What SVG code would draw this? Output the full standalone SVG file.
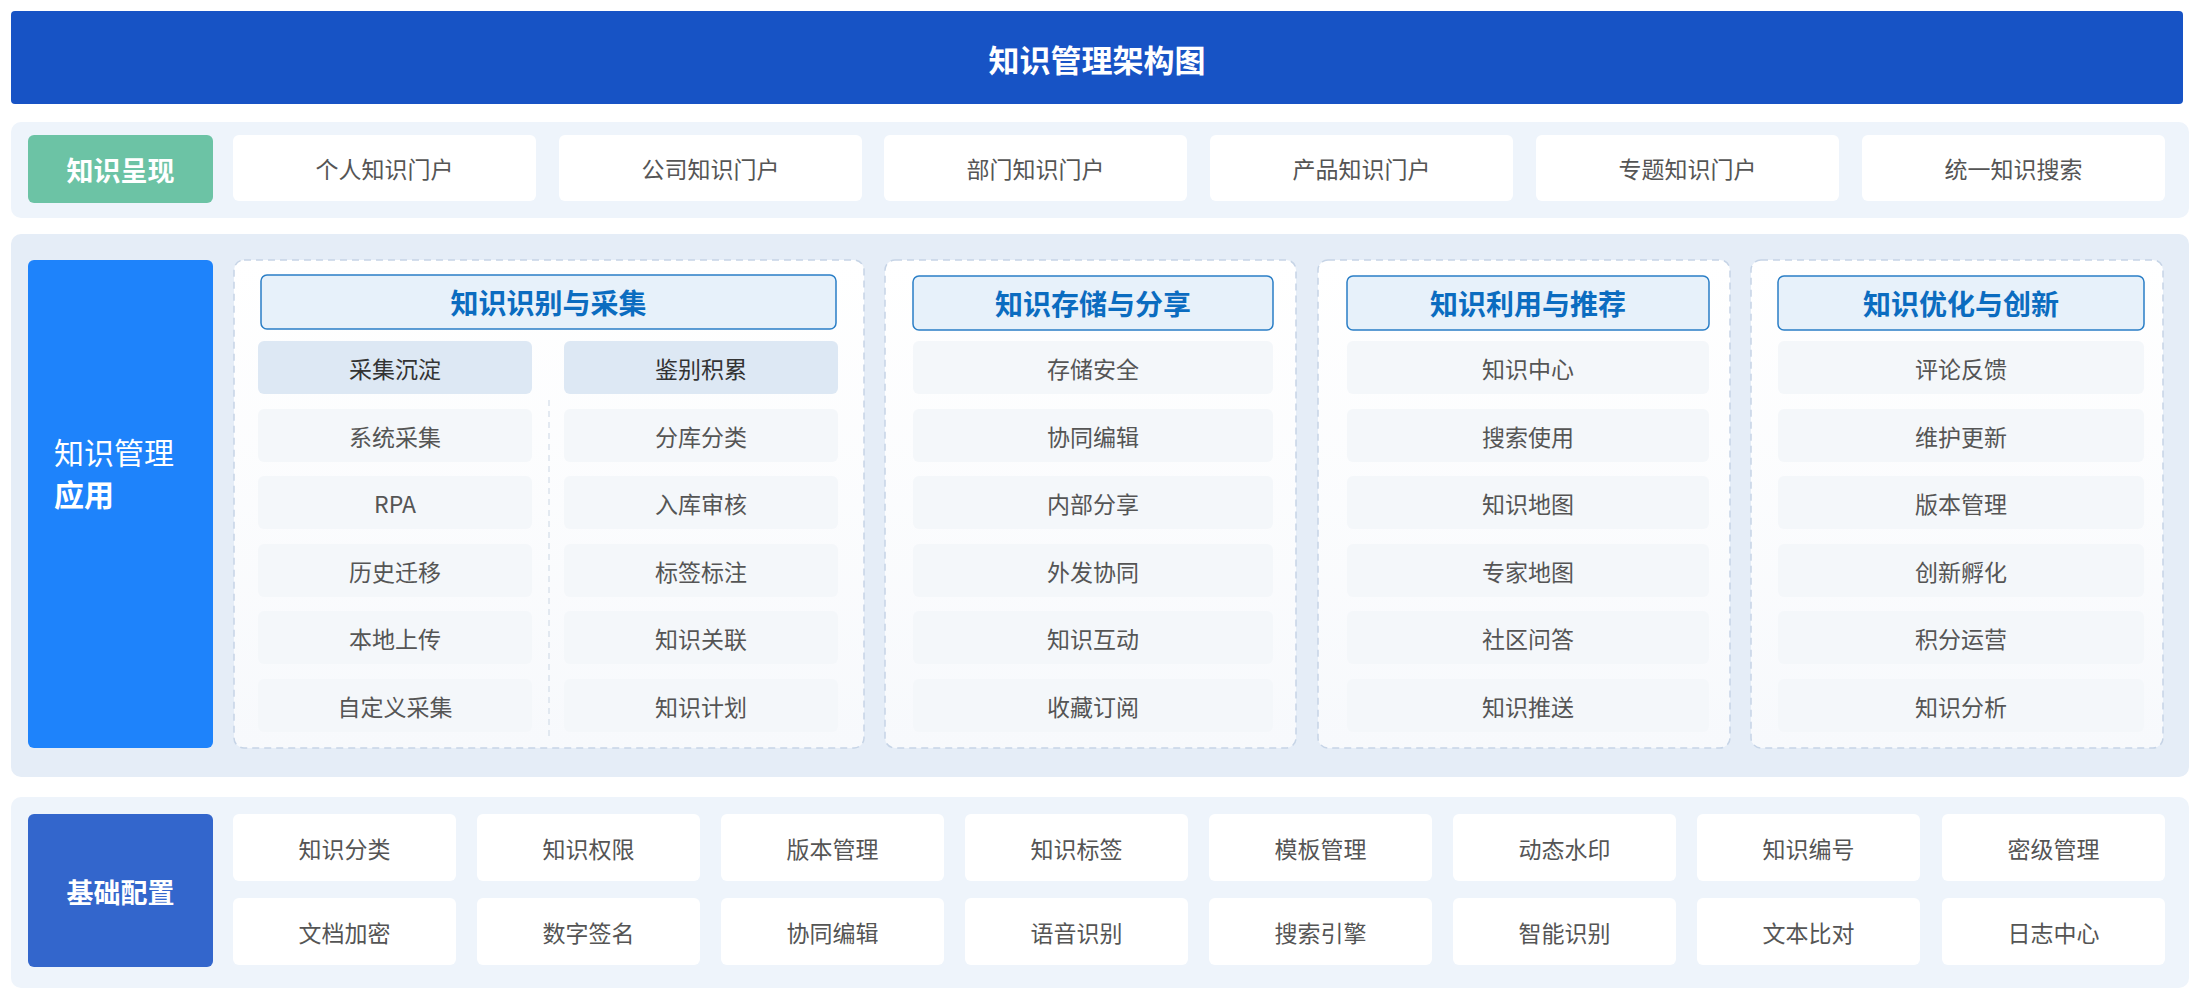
<svg xmlns="http://www.w3.org/2000/svg" width="2200" height="1000" viewBox="0 0 2200 1000">
<defs>
<style>
text{font-family:"Noto Sans CJK SC","Noto Sans",sans-serif;dominant-baseline:central;text-anchor:middle}
.item{fill:#555555;font-size:23px}
.sub{fill:#333333;font-size:23px}
.hdr{fill:#0B6CC0;font-size:28px;font-weight:600}
.lab{fill:#ffffff;font-size:27px;font-weight:700}
.wbox{fill:#ffffff}
.cbox{fill:#F4F7FA}
.sbox{fill:#DDE8F4}
.hbox{fill:#E7F1FA;stroke:#2A7EC6;stroke-width:1.5}
.col{fill:url(#colg);stroke:#C6D4E6;stroke-width:1.5;stroke-dasharray:7 5}
</style>
<linearGradient id="colg" x1="0" y1="0" x2="0" y2="1">
<stop offset="0" stop-color="#FFFFFF"/>
<stop offset="1" stop-color="#F7F9FC"/>
</linearGradient>
</defs>
<rect width="2200" height="1000" fill="#ffffff"/>

<g id="title">
<rect x="11" y="11" width="2172" height="93" rx="4" fill="#1753C5"/>
<text x="1097" y="58" fill="#ffffff" font-size="31" font-weight="600">知识管理架构图</text>
</g>

<g id="row-presentation">
<rect x="11" y="122" width="2178" height="96" rx="10" fill="#EEF4FB"/>
<g id="label-presentation">
<rect x="28" y="135" width="185" height="68" rx="6" fill="#6CC3A5"/>
<text class="lab" x="120.5" y="169">知识呈现</text>
</g>
<g id="p1"><rect class="wbox" x="233" y="135" width="303" height="66" rx="6"/><text class="item" x="384.5" y="168">个人知识门户</text></g>
<g id="p2"><rect class="wbox" x="559" y="135" width="303" height="66" rx="6"/><text class="item" x="710.5" y="168">公司知识门户</text></g>
<g id="p3"><rect class="wbox" x="884" y="135" width="303" height="66" rx="6"/><text class="item" x="1035.5" y="168">部门知识门户</text></g>
<g id="p4"><rect class="wbox" x="1210" y="135" width="303" height="66" rx="6"/><text class="item" x="1361.5" y="168">产品知识门户</text></g>
<g id="p5"><rect class="wbox" x="1536" y="135" width="303" height="66" rx="6"/><text class="item" x="1687.5" y="168">专题知识门户</text></g>
<g id="p6"><rect class="wbox" x="1862" y="135" width="303" height="66" rx="6"/><text class="item" x="2013.5" y="168">统一知识搜索</text></g>
</g>

<g id="row-application">
<rect x="11" y="234" width="2178" height="543" rx="10" fill="#E5EDF7"/>
<g id="label-application">
<rect x="28" y="260" width="185" height="488" rx="6" fill="#1E83FB"/>
<text x="54" y="451" fill="#ffffff" font-size="30" style="text-anchor:start">知识管理</text>
<text x="54" y="493" fill="#ffffff" font-size="30" font-weight="700" style="text-anchor:start">应用</text>
</g>

<g id="col1">
<rect class="col" x="234" y="260" width="630" height="488" rx="10"/>
<rect class="hbox" x="261" y="275" width="575" height="54" rx="6"/>
<text class="hdr" x="548.5" y="302">知识识别与采集</text>
<line x1="549" y1="400" x2="549" y2="737" stroke="#D3DCE8" stroke-width="1.2" stroke-dasharray="6 5"/>
<rect class="sbox" x="258" y="341" width="274" height="53" rx="6"/><text class="sub" x="395" y="367.5">采集沉淀</text>
<rect class="sbox" x="564" y="341" width="274" height="53" rx="6"/><text class="sub" x="701" y="367.5">鉴别积累</text>
<rect class="cbox" x="258" y="409" width="274" height="53" rx="6"/><text class="item" x="395" y="435.5">系统采集</text>
<rect class="cbox" x="258" y="476" width="274" height="53" rx="6"/><text class="item" x="395" y="502.5">RPA</text>
<rect class="cbox" x="258" y="544" width="274" height="53" rx="6"/><text class="item" x="395" y="570.5">历史迁移</text>
<rect class="cbox" x="258" y="611" width="274" height="53" rx="6"/><text class="item" x="395" y="637.5">本地上传</text>
<rect class="cbox" x="258" y="679" width="274" height="53" rx="6"/><text class="item" x="395" y="705.5">自定义采集</text>
<rect class="cbox" x="564" y="409" width="274" height="53" rx="6"/><text class="item" x="701" y="435.5">分库分类</text>
<rect class="cbox" x="564" y="476" width="274" height="53" rx="6"/><text class="item" x="701" y="502.5">入库审核</text>
<rect class="cbox" x="564" y="544" width="274" height="53" rx="6"/><text class="item" x="701" y="570.5">标签标注</text>
<rect class="cbox" x="564" y="611" width="274" height="53" rx="6"/><text class="item" x="701" y="637.5">知识关联</text>
<rect class="cbox" x="564" y="679" width="274" height="53" rx="6"/><text class="item" x="701" y="705.5">知识计划</text>
</g>

<g id="col2">
<rect class="col" x="885" y="260" width="411" height="488" rx="10"/>
<rect class="hbox" x="913" y="276" width="360" height="54" rx="6"/>
<text class="hdr" x="1093" y="303">知识存储与分享</text>
<rect class="cbox" x="913" y="341" width="360" height="53" rx="6"/><text class="item" x="1093" y="367.5">存储安全</text>
<rect class="cbox" x="913" y="409" width="360" height="53" rx="6"/><text class="item" x="1093" y="435.5">协同编辑</text>
<rect class="cbox" x="913" y="476" width="360" height="53" rx="6"/><text class="item" x="1093" y="502.5">内部分享</text>
<rect class="cbox" x="913" y="544" width="360" height="53" rx="6"/><text class="item" x="1093" y="570.5">外发协同</text>
<rect class="cbox" x="913" y="611" width="360" height="53" rx="6"/><text class="item" x="1093" y="637.5">知识互动</text>
<rect class="cbox" x="913" y="679" width="360" height="53" rx="6"/><text class="item" x="1093" y="705.5">收藏订阅</text>
</g>

<g id="col3">
<rect class="col" x="1318" y="260" width="412" height="488" rx="10"/>
<rect class="hbox" x="1347" y="276" width="362" height="54" rx="6"/>
<text class="hdr" x="1528" y="303">知识利用与推荐</text>
<rect class="cbox" x="1347" y="341" width="362" height="53" rx="6"/><text class="item" x="1528" y="367.5">知识中心</text>
<rect class="cbox" x="1347" y="409" width="362" height="53" rx="6"/><text class="item" x="1528" y="435.5">搜索使用</text>
<rect class="cbox" x="1347" y="476" width="362" height="53" rx="6"/><text class="item" x="1528" y="502.5">知识地图</text>
<rect class="cbox" x="1347" y="544" width="362" height="53" rx="6"/><text class="item" x="1528" y="570.5">专家地图</text>
<rect class="cbox" x="1347" y="611" width="362" height="53" rx="6"/><text class="item" x="1528" y="637.5">社区问答</text>
<rect class="cbox" x="1347" y="679" width="362" height="53" rx="6"/><text class="item" x="1528" y="705.5">知识推送</text>
</g>

<g id="col4">
<rect class="col" x="1751" y="260" width="412" height="488" rx="10"/>
<rect class="hbox" x="1778" y="276" width="366" height="54" rx="6"/>
<text class="hdr" x="1961" y="303">知识优化与创新</text>
<rect class="cbox" x="1778" y="341" width="366" height="53" rx="6"/><text class="item" x="1961" y="367.5">评论反馈</text>
<rect class="cbox" x="1778" y="409" width="366" height="53" rx="6"/><text class="item" x="1961" y="435.5">维护更新</text>
<rect class="cbox" x="1778" y="476" width="366" height="53" rx="6"/><text class="item" x="1961" y="502.5">版本管理</text>
<rect class="cbox" x="1778" y="544" width="366" height="53" rx="6"/><text class="item" x="1961" y="570.5">创新孵化</text>
<rect class="cbox" x="1778" y="611" width="366" height="53" rx="6"/><text class="item" x="1961" y="637.5">积分运营</text>
<rect class="cbox" x="1778" y="679" width="366" height="53" rx="6"/><text class="item" x="1961" y="705.5">知识分析</text>
</g>
</g>

<g id="row-base">
<rect x="11" y="797" width="2178" height="191" rx="10" fill="#EEF4FB"/>
<g id="label-base">
<rect x="28" y="814" width="185" height="153" rx="6" fill="#3366CC"/>
<text class="lab" x="120.5" y="891">基础配置</text>
</g>
<g id="b1"><rect class="wbox" x="233" y="814" width="223" height="67" rx="6"/><text class="item" x="344.5" y="848">知识分类</text></g>
<g id="b2"><rect class="wbox" x="477" y="814" width="223" height="67" rx="6"/><text class="item" x="588.5" y="848">知识权限</text></g>
<g id="b3"><rect class="wbox" x="721" y="814" width="223" height="67" rx="6"/><text class="item" x="832.5" y="848">版本管理</text></g>
<g id="b4"><rect class="wbox" x="965" y="814" width="223" height="67" rx="6"/><text class="item" x="1076.5" y="848">知识标签</text></g>
<g id="b5"><rect class="wbox" x="1209" y="814" width="223" height="67" rx="6"/><text class="item" x="1320.5" y="848">模板管理</text></g>
<g id="b6"><rect class="wbox" x="1453" y="814" width="223" height="67" rx="6"/><text class="item" x="1564.5" y="848">动态水印</text></g>
<g id="b7"><rect class="wbox" x="1697" y="814" width="223" height="67" rx="6"/><text class="item" x="1808.5" y="848">知识编号</text></g>
<g id="b8"><rect class="wbox" x="1942" y="814" width="223" height="67" rx="6"/><text class="item" x="2053.5" y="848">密级管理</text></g>
<g id="b9"><rect class="wbox" x="233" y="898" width="223" height="67" rx="6"/><text class="item" x="344.5" y="932">文档加密</text></g>
<g id="b10"><rect class="wbox" x="477" y="898" width="223" height="67" rx="6"/><text class="item" x="588.5" y="932">数字签名</text></g>
<g id="b11"><rect class="wbox" x="721" y="898" width="223" height="67" rx="6"/><text class="item" x="832.5" y="932">协同编辑</text></g>
<g id="b12"><rect class="wbox" x="965" y="898" width="223" height="67" rx="6"/><text class="item" x="1076.5" y="932">语音识别</text></g>
<g id="b13"><rect class="wbox" x="1209" y="898" width="223" height="67" rx="6"/><text class="item" x="1320.5" y="932">搜索引擎</text></g>
<g id="b14"><rect class="wbox" x="1453" y="898" width="223" height="67" rx="6"/><text class="item" x="1564.5" y="932">智能识别</text></g>
<g id="b15"><rect class="wbox" x="1697" y="898" width="223" height="67" rx="6"/><text class="item" x="1808.5" y="932">文本比对</text></g>
<g id="b16"><rect class="wbox" x="1942" y="898" width="223" height="67" rx="6"/><text class="item" x="2053.5" y="932">日志中心</text></g>
</g>

<g id="connectors"></g>
</svg>
